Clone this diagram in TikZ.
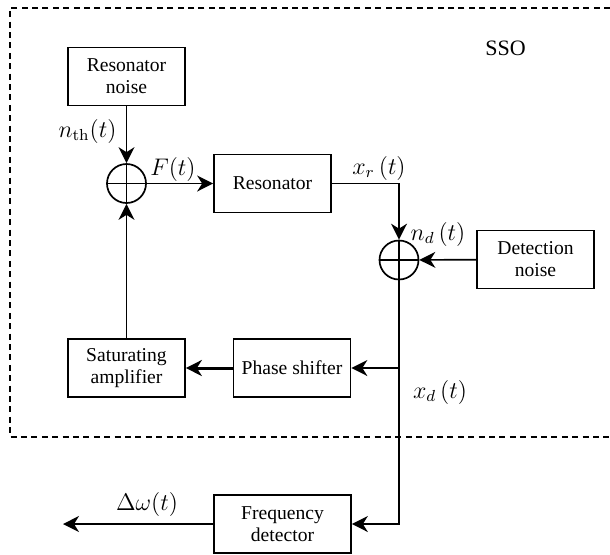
\documentclass[tikz,border=0pt]{standalone}
\usepackage[no-math]{fontspec}
\setmainfont{Liberation Serif}
\usetikzlibrary{arrows.meta}
\begin{document}
\begin{tikzpicture}[x=0.5pt,y=-0.5pt,
  blk/.style={draw, line width=0.85pt, minimum width=58.5pt, minimum height=29pt, align=center, inner sep=0pt, font=\fontsize{9.8}{11}\selectfont},
  sumnode/.style={draw, circle, line width=0.85pt, minimum size=19.5pt, inner sep=0pt},
  lbl/.style={inner sep=0pt, font=\fontsize{12}{14}\selectfont},
  conn/.style={line width=0.85pt, -{Stealth[length=8pt,width=8pt,inset=2.5pt]}},
  thickconn/.style={line width=1.5pt, -{Stealth[length=8pt,width=8pt,inset=2.5pt]}},
  frame/.style={line width=0.7pt, dash pattern=on 3pt off 2.2pt},
  ]
\useasboundingbox (0,0) rectangle (610,554);
% dashed SSO frame
\draw[frame] (610,8) -- (10,8) -- (10,437) -- (610,437);
\node[inner sep=0pt, font=\fontsize{11}{13}\selectfont] (sso) at (505.5,48.5) {SSO};

% blocks
\node[blk] (rn) at (126.5,76.5) {Resonator\\noise};
\node[blk] (res) at (272.5,183.5) {Resonator};
\node[blk] (dn) at (535.5,259.5) {Detection\\noise};
\node[blk] (ps) at (292,368) {Phase shifter};
\node[blk] (sa) at (126.5,368) {Saturating\\amplifier};
\node[blk, minimum width=68.5pt] (fd) at (282.5,524) {Frequency\\detector};

% summing junctions
\node[sumnode] (s1) at (126.5,183.5) {};
\draw[line width=0.85pt] (s1.north) -- (s1.south) (s1.west) -- (s1.east);
\node[sumnode] (s2) at (399,260) {};
\draw[line width=0.85pt] (s2.north) -- (s2.south) (s2.west) -- (s2.east);

% coordinates
\coordinate (br) at (s2.south |- ps.east);
\coordinate (out) at (63,524);

% connectors
\draw[conn] (rn) -- (s1);
\draw[conn] (s1) -- (res);
\draw[conn] (res.east) -| (s2.north);
\draw[conn] (dn) -- (s2);
\draw[conn] (s2.south) |- (fd.east);
\draw[conn] (br) -- (ps.east);
\draw[thickconn] (ps) -- (sa);
\draw[conn] (sa) -- (s1);
\draw[conn] (fd) -- (out);

% labels
\node[lbl] (lnth) at (87.5,131) {$n_{\mathrm{th}}(t)$};
\node[lbl] (lF) at (173,169) {$F(t)$};
\node[lbl] (lxr) at (379,168) {$x_{r}\left(t\right)$};
\node[lbl] (lnd) at (438,234) {$n_{d}\left(t\right)$};
\node[lbl] (lxd) at (440,392) {$x_{d}\left(t\right)$};
\node[lbl] (ldw) at (147,504) {$\Delta\omega(t)$};
\end{tikzpicture}
\end{document}
